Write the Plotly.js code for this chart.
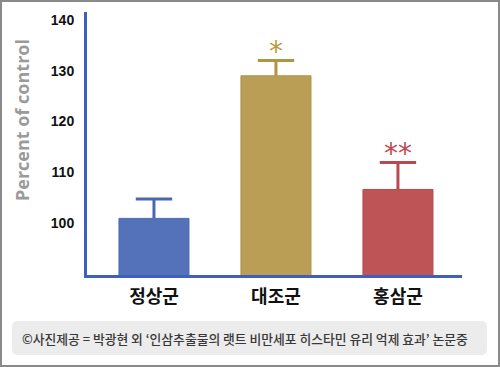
<!DOCTYPE html>
<html>
<head>
<meta charset="utf-8">
<script src="https://cdn.plot.ly/plotly-3.0.1.min.js"></script>
<style>
html,body{margin:0;padding:0;background:#fff;}
#plot{width:500px;height:367px;}
</style>
</head>
<body>
<div id="plot"></div>
<script>
const categories = ['정상군', '대조군', '홍삼군'];
const means = [100.9, 129.0, 106.6];
const errUpper = [3.8, 3.0, 5.3];
const significance = ['', '*', '**'];
const yTicks = [100, 110, 120, 130, 140];
const yTitle = 'Percent of control';
const footerText = '©사진제공 = 박광현 외 \u2018인삼추출물의 랫트 비만세포 히스타민 유리 억제 효과\u2019 논문중';

const barColors = ['#5472ba', '#bb9e56', '#be5456'];
const edgeColors = ['#4c69b3', '#ae9043', '#b44b4f'];
const errColors = ['#4a67b5', '#b09440', '#b84a4f'];
const starColors = ['#4a67b5', '#b8993f', '#c0474f'];

const traces = [];
categories.forEach((c, i) => {
  traces.push({
    type: 'bar',
    x: [c],
    y: [means[i]],
    marker: {color: barColors[i], line: {color: edgeColors[i], width: 1}},
    error_y: {type: 'data', symmetric: false, array: [errUpper[i]], arrayminus: [0],
              color: errColors[i], thickness: 3, width: 0},
    hoverinfo: 'skip',
    showlegend: false
  });
});
// error-bar caps (top only)
categories.forEach((c, i) => {
  traces.push({
    type: 'scatter', mode: 'markers',
    x: [c], y: [means[i] + errUpper[i]],
    marker: {symbol: 'line-ew-open', size: 26, color: errColors[i],
             line: {color: errColors[i], width: 3}},
    hoverinfo: 'skip', showlegend: false, cliponaxis: false
  });
});

// paper coordinate helpers (plot area: x 87..462, y 12..275 px)
const L = 87, R = 462, T = 12, B = 275;
const px = v => (v - L) / (R - L);
const py = v => (B - v) / (B - T);

function roundRect(x0, y0, x1, y1, r) {
  const X0 = px(x0), X1 = px(x1), Yt = py(y0), Yb = py(y1);
  const rx = r / (R - L), ry = r / (B - T);
  return `M ${X0+rx},${Yt} L ${X1-rx},${Yt} Q ${X1},${Yt} ${X1},${Yt-ry} L ${X1},${Yb+ry} Q ${X1},${Yb} ${X1-rx},${Yb} L ${X0+rx},${Yb} Q ${X0},${Yb} ${X0},${Yb+ry} L ${X0},${Yt-ry} Q ${X0},${Yt} ${X0+rx},${Yt} Z`;
}

const annotations = [];
categories.forEach((c, i) => {
  if (significance[i]) {
    annotations.push({
      x: c, y: means[i] + errUpper[i], xref: 'x', yref: 'y',
      text: significance[i], showarrow: false, yanchor: 'bottom', yshift: -9,
      font: {family: 'DejaVu Sans', size: 28, color: starColors[i]}
    });
  }
});
annotations.push({
  x: px(22), y: py(120), xref: 'paper', yref: 'paper', text: yTitle,
  showarrow: false, textangle: -90, xanchor: 'center', yanchor: 'middle',
  font: {family: 'Open Sans', size: 18, color: '#9a9a9a', weight: 'bold'}
});
annotations.push({
  x: px(245), y: py(338), xref: 'paper', yref: 'paper', text: footerText,
  showarrow: false, xanchor: 'center', yanchor: 'middle',
  font: {family: 'Noto Sans CJK KR', size: 12.8, color: '#383838', weight: 500}
});

const layout = {
  width: 500, height: 367,
  margin: {l: L, r: 500 - R, t: T, b: 367 - B, pad: 0},
  paper_bgcolor: '#ffffff', plot_bgcolor: '#ffffff',
  bargap: 0.426,
  xaxis: {
    type: 'category', range: [-0.549, 2.525], fixedrange: true,
    showline: true, linecolor: '#3e5fbd', linewidth: 3,
    showgrid: false, zeroline: false,
    ticks: 'outside', ticklen: 3, tickcolor: 'rgba(0,0,0,0)',
    tickfont: {family: 'Noto Sans CJK KR', size: 18, color: '#111111', weight: 'bold'}
  },
  yaxis: {
    range: [89.74, 141.58], tickvals: yTicks, fixedrange: true,
    showline: true, linecolor: '#3e5fbd', linewidth: 3,
    showgrid: false, zeroline: false,
    ticks: 'outside', ticklen: 7, tickcolor: 'rgba(0,0,0,0)',
    tickfont: {family: 'Liberation Sans', size: 14, color: '#111111', weight: 'bold'}
  },
  shapes: [
    {type: 'path', xref: 'paper', yref: 'paper', path: roundRect(12, 321, 487, 355, 6),
     fillcolor: '#ececec', line: {width: 0}, layer: 'below'},
    {type: 'rect', xref: 'paper', yref: 'paper', x0: px(1), x1: px(499), y0: py(366), y1: py(1),
     line: {color: '#8a8a8a', width: 2}, fillcolor: 'rgba(0,0,0,0)'}
  ],
  annotations: annotations
};

Plotly.newPlot('plot', traces, layout, {displayModeBar: false, staticPlot: true});
</script>
</body>
</html>
